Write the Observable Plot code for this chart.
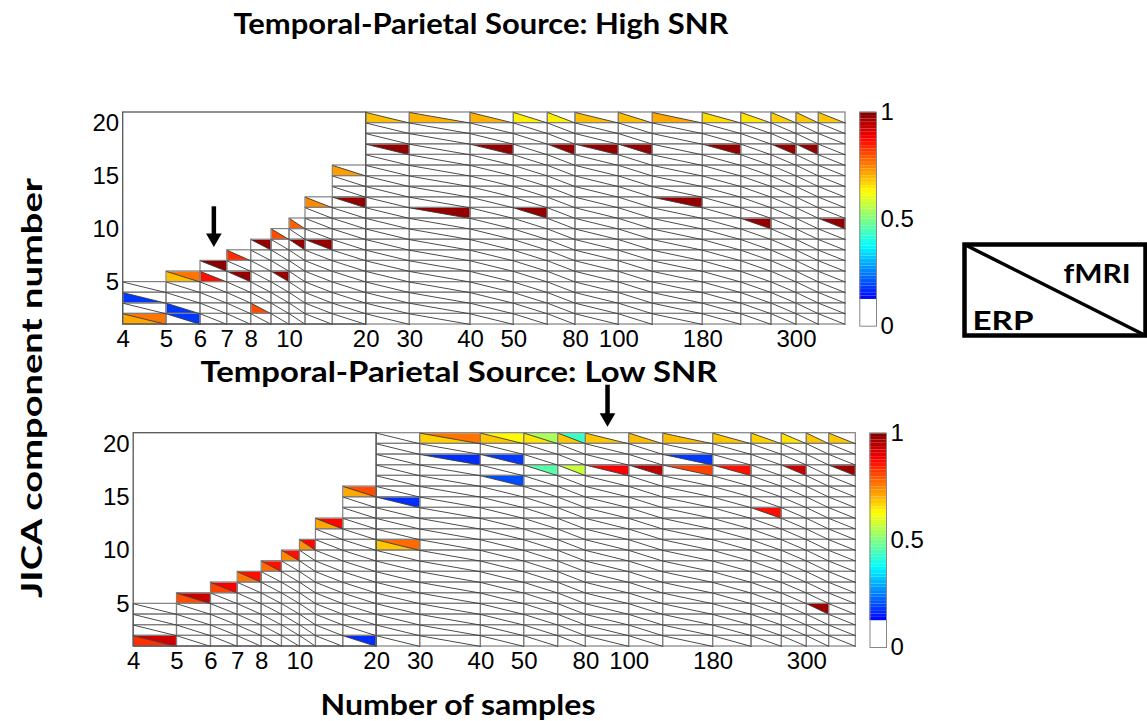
<!DOCTYPE html>
<html>
<head>
<meta charset="utf-8">
<script src="https://cdn.jsdelivr.net/npm/d3@7"></script>
<script src="https://cdn.jsdelivr.net/npm/@observablehq/plot@0.6"></script>
<style>
  html, body { margin: 0; padding: 0; background: #fff; }
  #page { position: relative; width: 1147px; height: 721px; overflow: hidden; background: #fff; }
  .lbl { position: absolute; font-family: Lato, "Open Sans", sans-serif; font-weight: bold; color: #000; white-space: nowrap; line-height: 1; }
  .abs { position: absolute; }
</style>
</head>
<body>
<div id="page"></div>
<script>
// ---------------- DATA ----------------
const sampleSizes = [4, 5, 6, 7, 8, 9, 10, 12, 15, 20, 30, 40, 50, 60, 80, 100, 140, 180, 220, 260, 300, 340];
const lastEdge = 380;
const maxComponents = 20;
const xTickLabels = [4, 5, 6, 7, 8, 10, 20, 30, 40, 50, 80, 100, 180, 300];
const yTickLabels = [5, 10, 15, 20];
const colorbarTicks = [0, 0.5, 1];

// [samples, component, modality, correlation]
const highSNR = [
  [4, 1, "ERP", 0.71], [4, 1, "fMRI", 0.76], [4, 3, "ERP", 0.18],
  [5, 5, "ERP", 0.69], [5, 5, "fMRI", 0.76], [5, 2, "ERP", 0.18], [5, 1, "fMRI", 0.18],
  [6, 6, "fMRI", 0.99], [6, 5, "ERP", 0.86],
  [7, 7, "ERP", 0.83], [7, 5, "fMRI", 0.98],
  [8, 8, "fMRI", 0.98], [8, 2, "ERP", 0.80],
  [9, 9, "ERP", 0.80], [9, 5, "fMRI", 0.98],
  [10, 10, "ERP", 0.78], [10, 8, "fMRI", 0.98],
  [12, 12, "ERP", 0.74], [12, 8, "fMRI", 0.98],
  [15, 15, "ERP", 0.72], [15, 12, "fMRI", 0.98],
  [20, 20, "ERP", 0.69], [20, 17, "fMRI", 0.98],
  [30, 20, "ERP", 0.70], [30, 11, "fMRI", 0.98],
  [40, 20, "ERP", 0.70], [40, 17, "fMRI", 0.98],
  [50, 20, "ERP", 0.64], [50, 11, "fMRI", 0.98],
  [60, 20, "ERP", 0.64], [60, 17, "fMRI", 0.98],
  [80, 20, "ERP", 0.69], [80, 17, "fMRI", 0.98],
  [100, 20, "ERP", 0.69], [100, 17, "fMRI", 0.98],
  [140, 20, "ERP", 0.71], [140, 12, "fMRI", 0.98],
  [180, 20, "ERP", 0.66], [180, 17, "fMRI", 0.98],
  [220, 20, "ERP", 0.65], [220, 10, "fMRI", 0.98],
  [260, 20, "ERP", 0.67], [260, 17, "fMRI", 0.98],
  [300, 20, "ERP", 0.68], [300, 17, "fMRI", 0.98],
  [340, 20, "ERP", 0.68], [340, 10, "fMRI", 0.98]
];

const lowSNR = [
  [4, 1, "ERP", 0.83], [4, 1, "fMRI", 0.92],
  [5, 5, "ERP", 0.80], [5, 5, "fMRI", 0.93],
  [6, 6, "ERP", 0.81], [6, 6, "fMRI", 0.88],
  [7, 7, "ERP", 0.76], [7, 7, "fMRI", 0.86],
  [8, 8, "ERP", 0.77], [8, 8, "fMRI", 0.86],
  [9, 9, "ERP", 0.74], [9, 9, "fMRI", 0.86],
  [10, 10, "ERP", 0.73], [10, 10, "fMRI", 0.87],
  [12, 12, "ERP", 0.71], [12, 12, "fMRI", 0.87],
  [15, 15, "ERP", 0.71], [15, 15, "fMRI", 0.80], [15, 1, "fMRI", 0.17],
  [20, 10, "ERP", 0.68], [20, 10, "fMRI", 0.77], [20, 14, "fMRI", 0.17],
  [30, 20, "ERP", 0.67], [30, 20, "fMRI", 0.76], [30, 18, "fMRI", 0.17],
  [40, 20, "ERP", 0.68], [40, 20, "fMRI", 0.63], [40, 18, "fMRI", 0.18], [40, 16, "fMRI", 0.20],
  [50, 20, "ERP", 0.65], [50, 20, "fMRI", 0.54], [50, 17, "fMRI", 0.46],
  [60, 20, "ERP", 0.68], [60, 20, "fMRI", 0.43], [60, 17, "fMRI", 0.57],
  [80, 20, "ERP", 0.68], [80, 17, "fMRI", 0.88],
  [100, 20, "ERP", 0.69], [100, 17, "fMRI", 0.94],
  [140, 20, "ERP", 0.69], [140, 18, "fMRI", 0.18], [140, 17, "fMRI", 0.81],
  [180, 20, "ERP", 0.68], [180, 17, "fMRI", 0.86],
  [220, 20, "ERP", 0.67], [220, 13, "fMRI", 0.86],
  [260, 20, "ERP", 0.65], [260, 17, "fMRI", 0.93],
  [300, 20, "ERP", 0.68], [300, 4, "fMRI", 0.97],
  [340, 20, "ERP", 0.68], [340, 17, "fMRI", 0.97]
];

// annotation arrows: column, component-axis start and tip
const arrowHigh = [{n: 6, from: 11.3, to: 8.3}];
const arrowLow = [{n: 80, from: 24.7, to: 21.6}];

// ---------------- LAYOUT ----------------
const W = 1147;
// relative column-edge offsets of the (non-uniform) sample axis, px of a 722.3 px wide grid
const colEdgePx = [0, 43.3, 77.3, 104, 128, 148.3, 166.3, 182.3, 209.6, 243, 286.6, 347.3, 390.6,
                   424.6, 452.3, 495.6, 529.6, 579.6, 618, 648.3, 673.3, 695.6, 722.3];
const tickFont = "'Liberation Sans', Arial, sans-serif";

// ---------------- HELPERS ----------------
const edges = [...sampleSizes, lastEdge];
const nextOf = new Map(sampleSizes.map((n, i) => [n, edges[i + 1]]));
const cells = sampleSizes.flatMap(n =>
  d3.range(1, Math.min(n, maxComponents) + 1).map(row => ({n, next: nextOf.get(n), row})));
const frameRight = sampleSizes.find(n => n >= maxComponents);

function jet(t) {
  const c = v => Math.round(255 * Math.max(0, Math.min(1, v)));
  return `rgb(${c(1.5 - Math.abs(4 * t - 3))},${c(1.5 - Math.abs(4 * t - 2))},${c(1.5 - Math.abs(4 * t - 1))})`;
}
const cmap = t => (t < 0.125 ? "#ffffff" : jet(t));
const colorScale = {type: "linear", domain: [0, 1], interpolate: cmap};

function triangles(entries) {
  return entries.flatMap(([n, comp, part, value], i) => {
    const l = n, r = nextOf.get(n), b = comp, t = comp + 1;
    const pts = part === "ERP" ? [[l, t], [l, b], [r, b], [l, t]] : [[l, t], [r, t], [r, b], [l, t]];
    return pts.map(([x, y]) => ({id: i, x, y, value}));
  });
}

const page = document.getElementById("page");
function place(node, left, top) {
  node.classList.add("abs");
  node.style.left = left + "px";
  node.style.top = top + "px";
  page.appendChild(node);
}
function label(text, cx, cy, size, targetLen, rotate = 0) {
  const d = document.createElement("div");
  d.className = "lbl";
  d.textContent = text;
  d.style.fontSize = size + "px";
  d.style.left = cx + "px";
  d.style.top = cy + "px";
  page.appendChild(d);
  const s = targetLen / d.getBoundingClientRect().width;
  d.style.transform = `translate(-50%,-50%) rotate(${rotate}deg) scaleX(${s})`;
}

function panel(entries, arrows, L) {
  const height = L.svgHeight;
  const k = (L.gridRight - L.gridLeft) / colEdgePx[colEdgePx.length - 1];
  const headR = 5.8;
  const headHalf = Math.sqrt(Math.PI * headR * headR / (Math.sqrt(3) * 3));
  const chart = Plot.plot({
    width: W,
    height,
    marginTop: L.gridTop - L.svgTop,
    marginBottom: L.svgTop + height - L.gridBottom,
    marginLeft: L.gridLeft,
    marginRight: W - L.gridRight,
    x: {type: "linear", domain: edges, range: colEdgePx.map(p => L.gridLeft + p * k)},
    y: {domain: [1, maxComponents + 1]},
    color: colorScale,
    style: {fontFamily: tickFont, fontSize: "24px", color: "#000", background: "transparent", overflow: "visible"},
    marks: [
      Plot.rect(cells, {x1: "n", x2: "next", y1: "row", y2: d => d.row + 1, fill: "#fff"}),
      Plot.line(triangles(entries), {x: "x", y: "y", z: "id", fill: "value", stroke: null}),
      Plot.rect(cells, {x1: "n", x2: "next", y1: "row", y2: d => d.row + 1, fill: "none", stroke: "#808080", strokeWidth: 1.2}),
      Plot.link(cells, {x1: "n", y1: d => d.row + 1, x2: "next", y2: "row", stroke: "#383838", strokeWidth: 0.9}),
      Plot.rect([0], {x1: sampleSizes[0], x2: frameRight, y1: 1, y2: maxComponents + 1, fill: "none", stroke: "#555", strokeWidth: 1.3}),
      Plot.link(arrows, {x1: d => (d.n + nextOf.get(d.n)) / 2, x2: d => (d.n + nextOf.get(d.n)) / 2, y1: "from", y2: "to", stroke: "#000", strokeWidth: 4.5, dy: -headHalf * 2}),
      Plot.dot(arrows, {x: d => (d.n + nextOf.get(d.n)) / 2, y: "to", symbol: "triangle", r: headR, rotate: 180, fill: "#000", stroke: null, dy: -headHalf * 2}),
      Plot.axisX({ticks: xTickLabels, tickSize: 0, tickPadding: 5, tickFormat: d => String(d), label: null, fontSize: 24}),
      Plot.axisY({ticks: yTickLabels, tickSize: 0, tickPadding: 4, tickFormat: d => String(d), label: null, fontSize: 24})
    ]
  });
  place(chart, 0, L.svgTop);
}

function colorbar(L) {
  const w = 90, h = 260;
  const levels = d3.range(64).map(i => ({lo: i / 64, hi: (i + 1) / 64, v: (i + 0.5) / 64}));
  const chart = Plot.plot({
    width: w, height: h,
    marginLeft: L.barLeft - L.left, marginRight: w - (L.barRight - L.left),
    marginTop: L.barTop - L.top, marginBottom: h - (L.barBottom - L.top),
    x: {domain: [0, 1], axis: null},
    y: {domain: [0, 1]},
    color: colorScale,
    style: {fontFamily: tickFont, fontSize: "24px", color: "#000", background: "transparent", overflow: "visible"},
    marks: [
      Plot.rect(levels, {x1: 0, x2: 1, y1: "lo", y2: "hi", fill: "v"}),
      Plot.frame({stroke: "#888", strokeWidth: 1}),
      Plot.axisY({anchor: "right", ticks: colorbarTicks, tickSize: 0, tickPadding: 4, tickFormat: d => String(d), label: null, fontSize: 24})
    ]
  });
  place(chart, L.left, L.top);
}

function modalityKey() {
  const chart = Plot.plot({
    width: 195, height: 110,
    marginLeft: 9, marginRight: 5, marginTop: 9, marginBottom: 10,
    x: {domain: [0, 1], axis: null},
    y: {domain: [0, 1], axis: null},
    style: {fontFamily: "Lato, sans-serif", background: "transparent", overflow: "visible"},
    marks: [
      Plot.frame({stroke: "#000", strokeWidth: 4.5}),
      Plot.link([0], {x1: 0, y1: 1, x2: 1, y2: 0, stroke: "#000", strokeWidth: 3.5}),
      Plot.text(["fMRI"], {frameAnchor: "right", dx: -15, dy: -15, fontSize: 26, fontWeight: "bold", textAnchor: "end"}),
      Plot.text(["ERP"], {frameAnchor: "bottom-left", dx: 8, dy: -6, fontSize: 27, fontWeight: "bold", textAnchor: "start", lineAnchor: "bottom"})
    ]
  });
  // stretch the key's words to the reference's wide lettering
  const widths = {fMRI: 67, ERP: 61};
  chart.querySelectorAll("text").forEach(t => {
    const w = widths[t.textContent.trim()];
    if (w) { t.setAttribute("textLength", w); t.setAttribute("lengthAdjust", "spacingAndGlyphs"); }
  });
  place(chart, 955, 235);
}

// ---------------- RENDER ----------------
panel(highSNR, arrowHigh, {svgTop: 85, svgHeight: 275, gridLeft: 122.7, gridRight: 845, gridTop: 112, gridBottom: 324});
panel(lowSNR, arrowLow, {svgTop: 385, svgHeight: 290, gridLeft: 133.2, gridRight: 855.3, gridTop: 432.7, gridBottom: 646});
colorbar({left: 850, top: 95, barLeft: 859.3, barRight: 876, barTop: 111.7, barBottom: 325.7});
colorbar({left: 860, top: 415, barLeft: 869.5, barRight: 886, barTop: 432.7, barBottom: 647});
modalityKey();

label("Temporal-Parietal Source: High SNR", 480.5, 23, 28, 495);
label("Temporal-Parietal Source: Low SNR", 458.5, 371, 28, 517);
label("Number of samples", 457.5, 704, 28, 275);
label("JICA component number", 30, 388, 29, 420, -90);
</script>
</body>
</html>
